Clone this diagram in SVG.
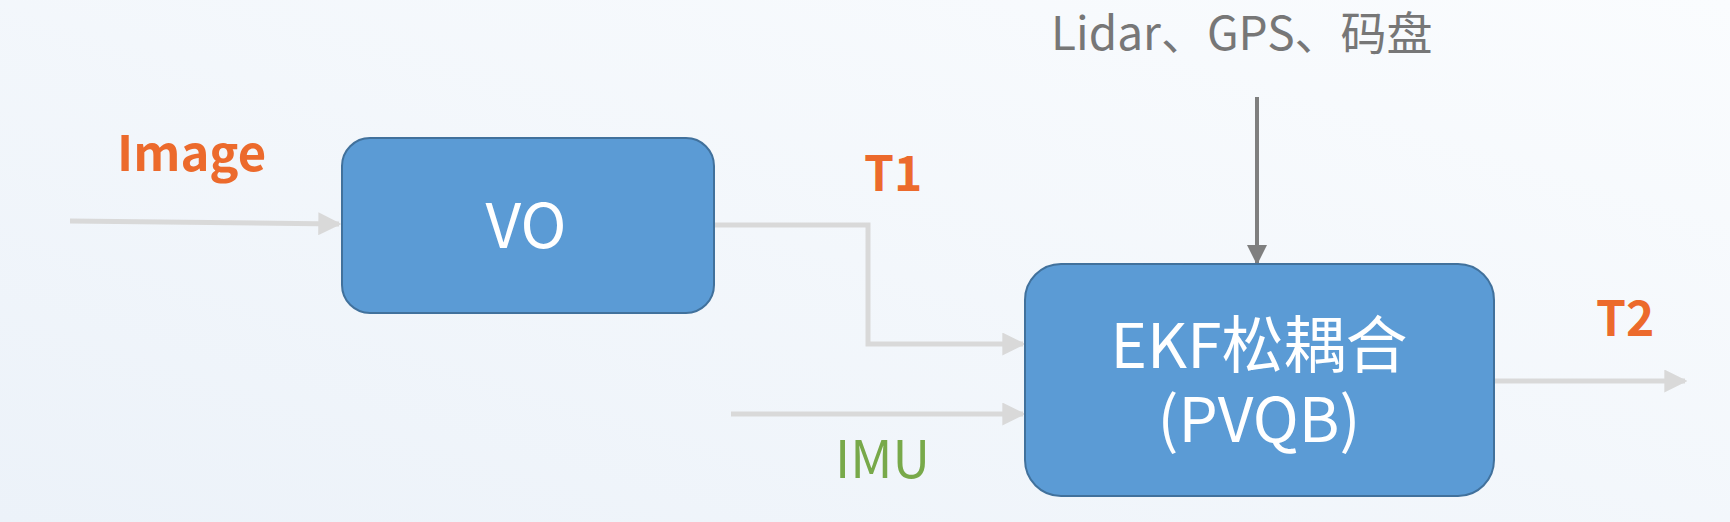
<svg xmlns="http://www.w3.org/2000/svg" width="1730" height="522" viewBox="0 0 1730 522">
<defs>
<linearGradient id="bg" x1="0" y1="1" x2="1" y2="0">
<stop offset="0" stop-color="#ecf2f9"/>
<stop offset="1" stop-color="#fafcfe"/>
</linearGradient>
<marker id="ah" viewBox="0 0 10 10" refX="9" refY="5" markerWidth="4.6" markerHeight="4.6" orient="auto" markerUnits="strokeWidth">
<path d="M0,0 L10,5 L0,10 Z" fill="#d9d9d9"/>
</marker>
<marker id="ahd" viewBox="0 0 10 10" refX="9" refY="5" markerWidth="5" markerHeight="5" orient="auto" markerUnits="strokeWidth">
<path d="M0,0 L10,5 L0,10 Z" fill="#7f7f7f"/>
</marker>
</defs>
<style>
.box{fill:#5b9bd5;stroke:#41719c;stroke-width:2}
.boxt{fill:#ffffff;font-family:"Noto Sans CJK SC","Open Sans",sans-serif;font-size:62px;text-anchor:middle}
.lc{fill:none;stroke:#d9d9d9;stroke-width:5}
.lab{font-family:"Noto Sans CJK SC","Open Sans",sans-serif;font-weight:bold;fill:#ec6a2c}
</style>
<rect width="1730" height="522" fill="url(#bg)"/>
<g id="connectors">
<line class="lc" x1="70" y1="221" x2="339" y2="224" marker-end="url(#ah)"/>
<polyline class="lc" points="714,225 868,225 868,344 1023,344" marker-end="url(#ah)"/>
<line class="lc" x1="731" y1="414" x2="1023" y2="414" marker-end="url(#ah)"/>
<line class="lc" x1="1494" y1="381" x2="1685" y2="381" marker-end="url(#ah)"/>
<line x1="1257" y1="97" x2="1257" y2="263" stroke="#7f7f7f" stroke-width="4" marker-end="url(#ahd)"/>
</g>
<g id="vo">
<rect class="box" x="342" y="138" width="372" height="175" rx="28"/>
<text class="boxt" x="526" y="248" font-size="64">VO</text>
</g>
<g id="ekf">
<rect class="box" x="1025" y="264" width="469" height="232" rx="36"/>
<text class="boxt" x="1259" y="368"><tspan x="1259" y="368">EKF松耦合</tspan><tspan x="1259" y="442">(PVQB)</tspan></text>
</g>
<g id="labels">
<text class="lab" x="117" y="171" font-size="49">Image</text>
<text class="lab" x="864" y="191" font-size="48">T1</text>
<text class="lab" x="1596" y="336" font-size="48">T2</text>
<text x="835" y="478" font-family="'Noto Sans CJK SC','Open Sans',sans-serif" font-size="52" fill="#78a94a">IMU</text>
<text x="1051" y="50" font-family="'Noto Sans CJK SC','Open Sans',sans-serif" font-size="46" fill="#777777">Lidar、GPS、码盘</text>
</g>
</svg>
